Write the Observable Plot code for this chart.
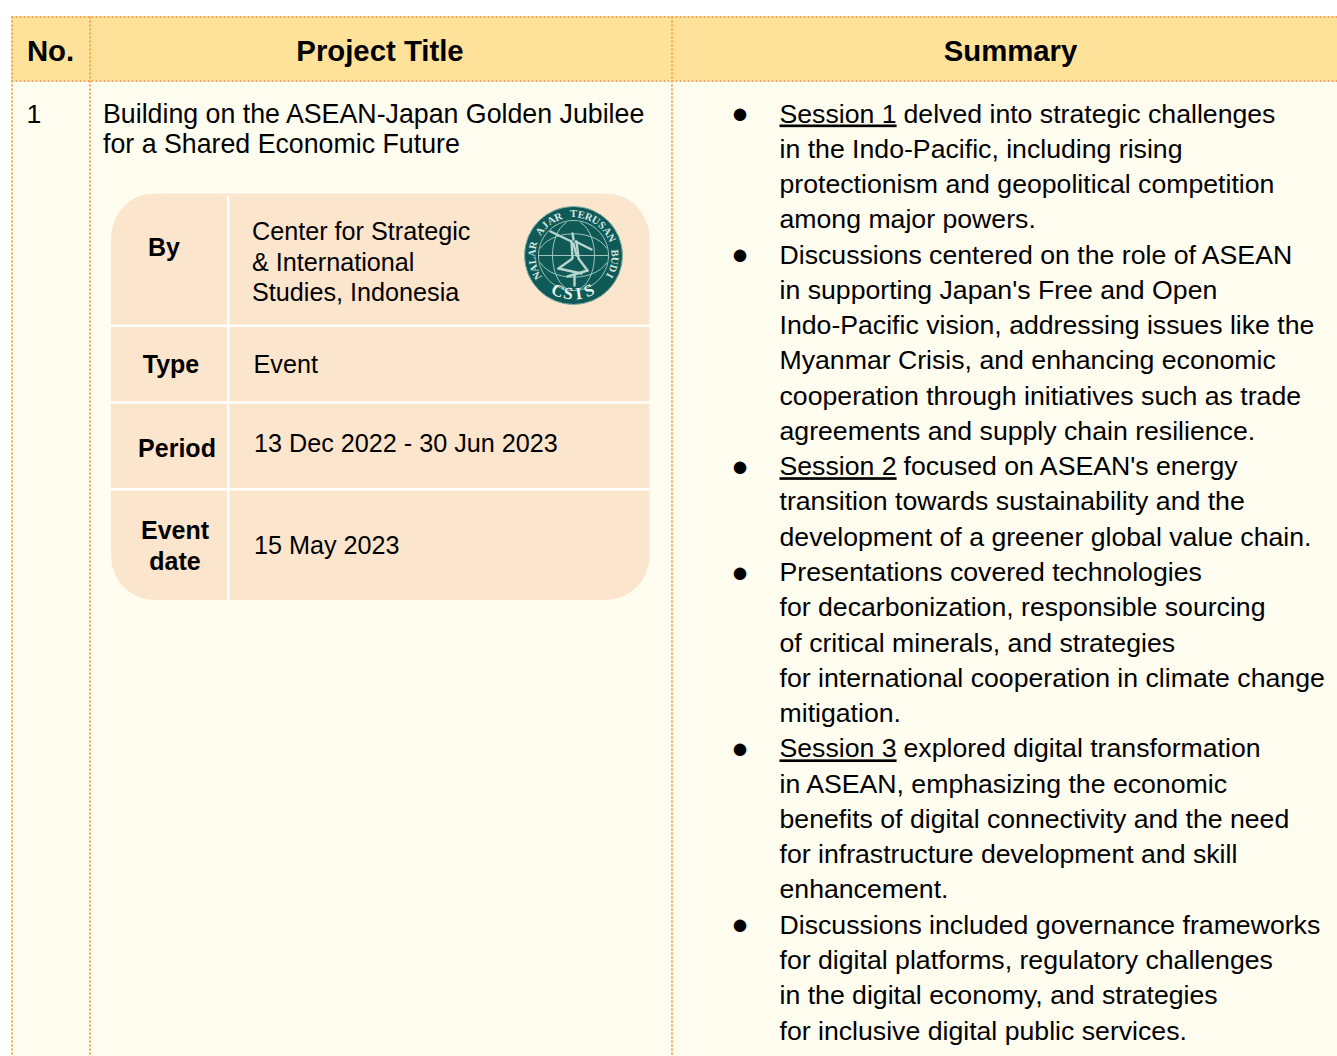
<!DOCTYPE html>
<html><head><meta charset="utf-8">
<script src="https://cdn.jsdelivr.net/npm/d3@7"></script>
<script src="https://cdn.jsdelivr.net/npm/@observablehq/plot@0.6"></script>
<style>
html,body{margin:0;padding:0;background:#fff;overflow:hidden}
svg{display:block}
.underlined text{text-decoration:underline;text-decoration-thickness:1.6px}
</style></head><body>
<div id="chart"></div>
<script>
// ---- content ----
const tableHeaders = ["No.", "Project Title", "Summary"];
const rowNumbers = ["1"];
const projectTitleLines = ["Building on the ASEAN-Japan Golden Jubilee", "for a Shared Economic Future"];
const detailLabels = [["By"], ["Type"], ["Period"], ["Event", "date"]];
const detailValues = [["Center for Strategic", "& International", "Studies, Indonesia"], ["Event"], ["13 Dec 2022 - 30 Jun 2023"], ["15 May 2023"]];
const summaryLines = [
  "delved into strategic challenges",
  "in the Indo-Pacific, including rising",
  "protectionism and geopolitical competition",
  "among major powers.",
  "Discussions centered on the role of ASEAN",
  "in supporting Japan's Free and Open",
  "Indo-Pacific vision, addressing issues like the",
  "Myanmar Crisis, and enhancing economic",
  "cooperation through initiatives such as trade",
  "agreements and supply chain resilience.",
  "focused on ASEAN's energy",
  "transition towards sustainability and the",
  "development of a greener global value chain.",
  "Presentations covered technologies",
  "for decarbonization, responsible sourcing",
  "of critical minerals, and strategies",
  "for international cooperation in climate change",
  "mitigation.",
  "explored digital transformation",
  "in ASEAN, emphasizing the economic",
  "benefits of digital connectivity and the need",
  "for infrastructure development and skill",
  "enhancement.",
  "Discussions included governance frameworks",
  "for digital platforms, regulatory challenges",
  "in the digital economy, and strategies",
  "for inclusive digital public services."
];
const bulletLineIndex = [0, 4, 10, 13, 18, 23];
const sessionLabels = [{line: 0, text: "Session 1"}, {line: 10, text: "Session 2"}, {line: 18, text: "Session 3"}];
const logoMotto = "NALAR AJAR TERUSAN BUDI";
const logoName = "CSIS";

// ---- layout (page grid, kept apart from the content) ----
const W = 1337, H = 1056;
const grid = {left: 11.5, col1: 89.5, col2: 671.5, top: 16.5, headBottom: 80.5};
const panel = {x1: 111, x2: 649.5, y1: 193.5, y2: 600, split: 227.7, rows: [325.3, 402, 488.8]};
const colours = {header: "#FFE299", body: "#FFFCF0", dots: "#F6A54F", panel: "#FCE5CD", ink: "#000", logo: "#0F5A57", logoInk: "#9CC4BA"};
const bodyFont = 26.67, titleFont = 26.75, panelFont = 25.2, labelFont = 25, headFont = 29.33;
const summaryBaseline = i => 122 + 35.27 * i;
const summaryTextX = 779, sessionAfterX = 903;
const labelBaselines = [[255], [372], [456], [538, 569]];
const labelCentres = [163.5, 170.5, 176.5, 174.5];
const valueBaselines = [[239.5, 270, 300.5], [372], [451], [553]];
const valueX = [251.5, 253, 253.5, 253.5];
const logo = {x: 573, y: 255, r: 49};

const labelRows = detailLabels.flatMap((ls, i) => ls.map((t, j) => ({t, x: labelCentres[i], y: labelBaselines[i][j]})));
const valueRows = detailValues.flatMap((ls, i) => ls.map((t, j) => ({t, x: valueX[i], y: valueBaselines[i][j]})));
const summaryRows = summaryLines.map((t, i) => {
  const session = sessionLabels.some(s => s.line === i);
  return {t, i, x: session ? sessionAfterX : summaryTextX, y: summaryBaseline(i)};
});
const polar = (r, deg) => [logo.x + r * Math.sin(deg * Math.PI / 180), logo.y - r * Math.cos(deg * Math.PI / 180)];
const mottoChars = Array.from(logoMotto).map((c, i, a) => {
  const deg = -119 + 238 * i / (a.length - 1);
  const [x, y] = polar(41.5, deg);
  return {c, x, y, deg};
});
const nameChars = Array.from(logoName).map((c, i, a) => {
  const deg = 180 + 24 - 48 * i / (a.length - 1);
  const [x, y] = polar(38.5, deg);
  return {c, x, y, deg: deg - 180};
});
const ring = d3.range(0, 361, 6).map(d => polar(35, d));
const arcPts = (squash) => d3.range(-70, 71, 10).map(d => {const [x, y] = polar(35, d + 90); return [logo.x + (x - logo.x) * squash, y];});
const arcA = arcPts(0.6);
const arcB = arcPts(-0.6);
const latitude = (dir) => d3.range(-70, 71, 10).map(d => {const [x, y] = polar(35, d); return [x, logo.y + dir * (y - logo.y) * 0.62];});
const equator = [[logo.x - 35, logo.y], [logo.x + 35, logo.y]];
// seated figure, drawn as a few thick strokes around the centre of the seal
const fig = [
  [[-1, -22], [0, -16]], [[-2, -14], [-23, -24]], [[2, -14], [18, -6]], [[-2, -14], [-1, 2]], [[3, -14], [5, 2]], [[0, -12], [3, 0]],
  [[-1, 3], [-15, 13]], [[5, 3], [14, 15]], [[-15, 13], [8, 18]], [[14, 15], [-6, 21]], [[1, 20], [1, 30]]
].map(s => s.map(([dx, dy]) => [logo.x + dx, logo.y + dy]));

const plot = Plot.plot({
  width: W, height: H, margin: 0,
  x: {type: "linear", domain: [0, W], range: [0, W], axis: null},
  y: {type: "linear", domain: [0, H], range: [0, H], axis: null},
  style: {fontFamily: "'Liberation Sans', Arial, sans-serif", background: "#fff", color: "#000"},
  marks: [
    // table fills
    Plot.rect([0], {x1: grid.left, x2: W, y1: grid.headBottom, y2: H, fill: colours.body}),
    Plot.rect([0], {x1: grid.left, x2: W, y1: grid.top, y2: grid.headBottom, fill: colours.header}),
    // dotted borders
    Plot.ruleY([grid.top, grid.headBottom], {x1: grid.left, x2: W, stroke: colours.dots, strokeWidth: 2, strokeDasharray: "2,2"}),
    Plot.ruleX([grid.left, grid.col1, grid.col2], {y1: grid.top, y2: H, stroke: colours.dots, strokeWidth: 2, strokeDasharray: "2,2"}),
    // headers
    Plot.text([tableHeaders[0]], {text: d => d, x: 50, y: 60, fontSize: headFont, fontWeight: "bold", lineAnchor: "bottom", fill: colours.ink}),
    Plot.text([tableHeaders[1]], {text: d => d, x: 379.5, y: 60, fontSize: headFont, fontWeight: "bold", lineAnchor: "bottom", fill: colours.ink}),
    Plot.text([tableHeaders[2]], {text: d => d, x: 1010, y: 60, fontSize: headFont, fontWeight: "bold", lineAnchor: "bottom", fill: colours.ink}),
    // row number and title
    Plot.text(rowNumbers, {text: d => d, x: 26, y: 122.5, fontSize: bodyFont, textAnchor: "start", lineAnchor: "bottom", fill: colours.ink}),
    Plot.text(projectTitleLines, {text: d => d, x: 102.5, y: (d, i) => 122.5 + 30.4 * i, fontSize: titleFont, textAnchor: "start", lineAnchor: "bottom", fill: colours.ink}),
    // detail panel
    Plot.rect([0], {x1: panel.x1, x2: panel.x2, y1: panel.y1, y2: panel.y2, rx: 44, fill: colours.panel}),
    Plot.ruleX([panel.split], {y1: panel.y1 + 2, y2: panel.y2, stroke: "#fff", strokeWidth: 2.6}),
    Plot.ruleY(panel.rows, {x1: panel.x1, x2: panel.x2, stroke: "#fff", strokeWidth: 2.6}),
    Plot.text(labelRows, {text: "t", x: "x", y: "y", fontSize: labelFont, fontWeight: "bold", lineAnchor: "bottom", fill: colours.ink}),
    Plot.text(valueRows, {text: "t", x: "x", y: "y", fontSize: panelFont, textAnchor: "start", lineAnchor: "bottom", fill: colours.ink}),
    // CSIS seal
    Plot.dot([logo], {x: "x", y: "y", r: logo.r, fill: colours.logo, stroke: "#7FB0A8", strokeWidth: 1}),
    Plot.line(ring, {stroke: colours.logoInk, strokeWidth: 1}),
    Plot.line(arcA, {stroke: colours.logoInk, strokeWidth: 1}),
    Plot.line(arcB, {stroke: colours.logoInk, strokeWidth: 1}),
    Plot.line(latitude(1), {stroke: colours.logoInk, strokeWidth: 1}),
    Plot.line(latitude(-1), {stroke: colours.logoInk, strokeWidth: 1}),
    Plot.line(equator, {stroke: colours.logoInk, strokeWidth: 1}),
    ...fig.map(s => Plot.line(s, {stroke: "#B9D6CE", strokeWidth: 2.4})),
    Plot.text(mottoChars, {text: "c", x: "x", y: "y", rotate: "deg", fontSize: 10.5, fontFamily: "'Liberation Serif', serif", fontWeight: "bold", fill: "#D6E8E2"}),
    Plot.text(nameChars, {text: "c", x: "x", y: "y", rotate: "deg", fontSize: 17, fontFamily: "'Liberation Serif', serif", fontWeight: "bold", fill: "#E4F0EC"}),
    // summary
    Plot.text(bulletLineIndex, {text: () => "\u25CF", x: 739.5, y: summaryBaseline, fontSize: 29, lineAnchor: "bottom", dy: 0.5, fill: colours.ink}),
    Plot.text(summaryRows, {text: "t", x: "x", y: "y", fontSize: bodyFont, textAnchor: "start", lineAnchor: "bottom", fill: colours.ink}),
    Plot.text(sessionLabels, {text: "text", x: summaryTextX, y: d => summaryBaseline(d.line), fontSize: bodyFont, textAnchor: "start", lineAnchor: "bottom", fill: colours.ink, className: "underlined"})
  ]
});
document.getElementById("chart").append(plot);
</script></body></html>
